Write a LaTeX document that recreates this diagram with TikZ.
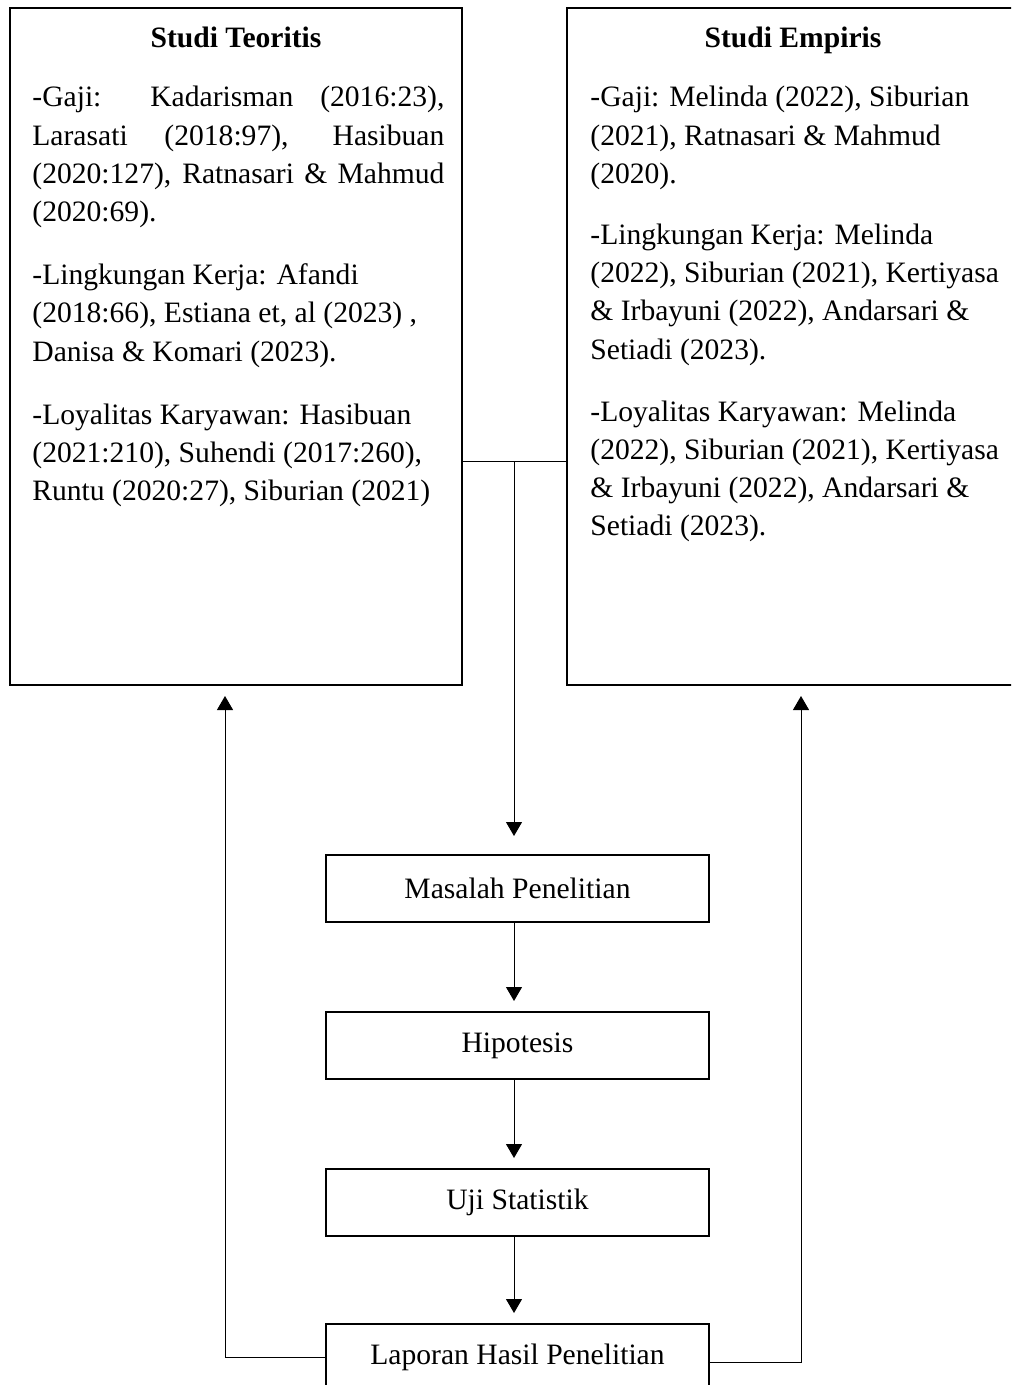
\documentclass[tikz,border=0pt]{standalone}
\usepackage{fontspec}
\setmainfont{Liberation Serif}
\usetikzlibrary{positioning, arrows.meta}
\setlength{\parindent}{0pt}

\begin{document}
\begin{tikzpicture}[
    >={Triangle[width=8pt,length=7pt]},
    x=0.5pt, y=-0.5pt,
    font=\fontsize{14.8}{19.1}\selectfont,
]

\tikzstyle{bigbox} = [rectangle, draw=black, line width=1pt, minimum width=226pt, minimum height=338.5pt]
\tikzstyle{stepbox} = [rectangle, draw=black, line width=1pt, minimum width=191.5pt, minimum height=33.5pt]
\tikzstyle{reftext} = [anchor=north west, inner sep=0pt, text width=206pt]
\tikzstyle{link} = [line width=.5pt]

\clip (0,0) rectangle (1011,1385);

% top boxes
\node (teori) [bigbox] at (236,346.5) {};
\node (empiris) [bigbox] at (793,346.5) {};

\node (teorititle) [anchor=base] at (236,48) {\textbf{Studi Teoritis}};
\node (empiristitle) [anchor=base] at (793,48) {\textbf{Studi Empiris}};

\node (teoritext) [reftext, align=justify] at (32,86) {-Gaji: Kadarisman (2016:23),\linebreak
Larasati (2018:97), Hasibuan\linebreak
(2020:127), Ratnasari \& Mahmud\linebreak
(2020:69).\\[12.5pt]
-Lingkungan Kerja: Afandi\\
(2018:66), Estiana et, al (2023) ,\\
Danisa \& Komari (2023).\\[12.5pt]
-Loyalitas Karyawan: Hasibuan\\
(2021:210), Suhendi (2017:260),\\
Runtu (2020:27), Siburian (2021)};

\node (empiristext) [reftext, align=flush left, text width=215pt] at (590,86) {-Gaji: Melinda (2022), Siburian\\
(2021), Ratnasari \& Mahmud\\
(2020).\\[11.5pt]
-Lingkungan Kerja: Melinda\\
(2022), Siburian (2021), Kertiyasa\\
\& Irbayuni (2022), Andarsari \&\\
Setiadi (2023).\\[12pt]
-Loyalitas Karyawan: Melinda\\
(2022), Siburian (2021), Kertiyasa\\
\& Irbayuni (2022), Andarsari \&\\
Setiadi (2023).};

% steps
\node (masalah) [stepbox] at (517.5,888.5) {Masalah Penelitian};
\node (hipotesis) [stepbox, below=44pt of masalah] {Hipotesis};
\node (uji) [stepbox, below=44pt of hipotesis] {Uji Statistik};
\node (laporan) [stepbox, below=43pt of uji] {Laporan Hasil Penelitian};

\coordinate (junc) at (514,461);
\coordinate (backL) at (225,1357);
\coordinate (backR) at (801,1362);

\draw[link] (teori.east |- junc) -- (empiris.west |- junc);
\draw[link, ->, shorten >=9pt] (junc) -- (masalah.north -| junc);

\draw[link, ->, shorten >=5pt] (masalah.south -| junc) -- (hipotesis.north -| junc);
\draw[link, ->, shorten >=5pt] (hipotesis.south -| junc) -- (uji.north -| junc);
\draw[link, ->, shorten >=5pt] (uji.south -| junc) -- (laporan.north -| junc);

\draw[link, ->, shorten >=5pt] (laporan.west |- backL) -- (backL) -- (backL |- teori.south);
\draw[link, ->, shorten >=5pt] (laporan.east |- backR) -- (backR) -- (backR |- empiris.south);

\end{tikzpicture}
\end{document}
